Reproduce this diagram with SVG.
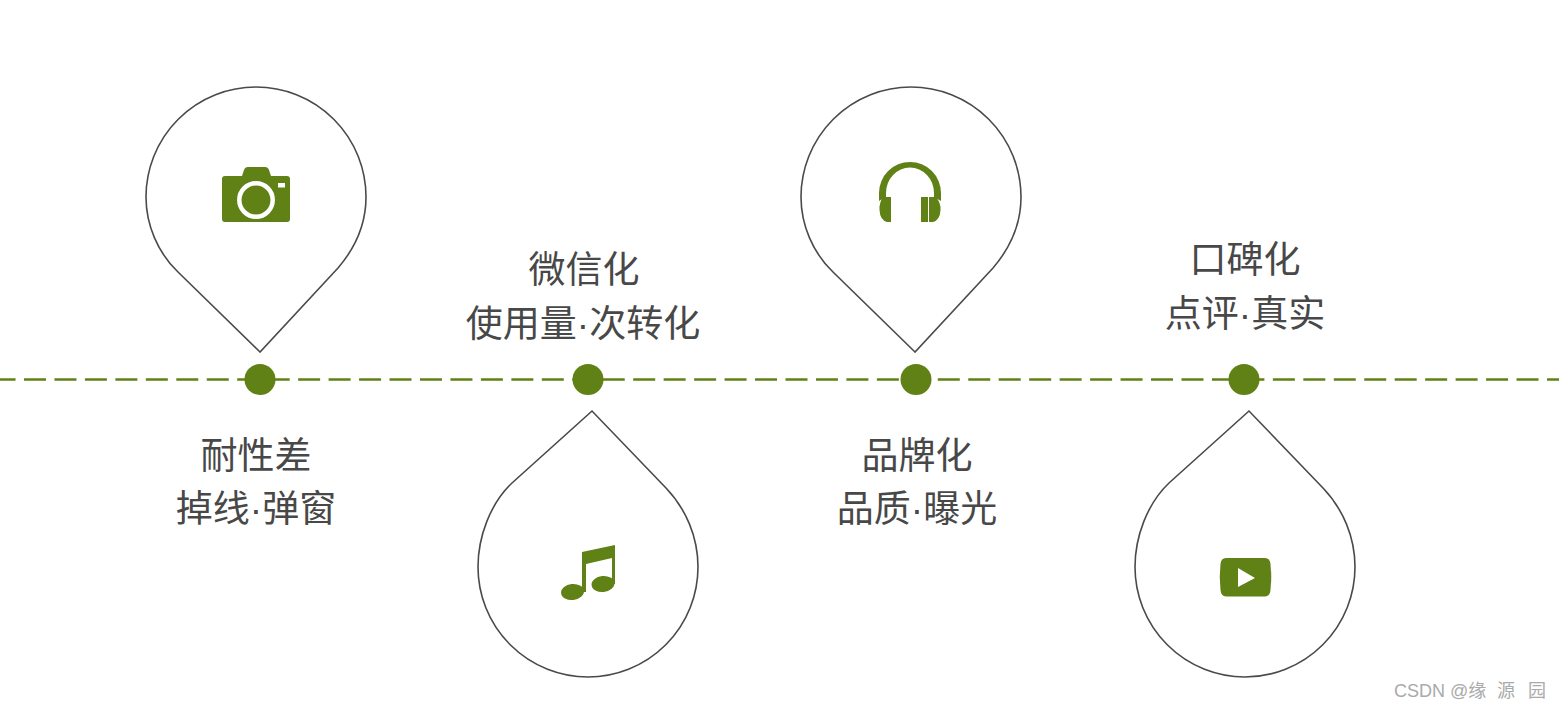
<svg xmlns="http://www.w3.org/2000/svg" width="1559" height="709" viewBox="0 0 1559 709">
<style>
.pin{fill:#fff;stroke:#4a4a4a;stroke-width:1.6}
.ic{fill:#5f8115}
.dot{fill:#5f8115}
.t{font-family:"Liberation Sans","Noto Sans CJK SC",sans-serif;font-size:37px;font-weight:400;fill:#484848;text-anchor:middle}
.wm{font-family:"Liberation Sans","Noto Sans CJK SC",sans-serif;font-size:18px;fill:#aaa}
</style>
<defs>
<path id="down" d="M4 155L-78 75C-98 56 -110 28 -110 0A110 110 0 0 1 110 0C110 26 100 50 82 71Z"/>
<path id="up" d="M4 -156L-76 -84C-98 -63 -110 -30 -110 0A110 110 0 0 0 110 0C110 -30 98 -58 78 -79Z"/>
</defs>
<g id="connectors">
<line x1="-6.460" y1="379.500" x2="1559" y2="379.500" stroke="#5f8115" stroke-width="2.500" stroke-dasharray="22 8.460"/>
</g>
<g id="node-1">
<use href="#down" class="pin" x="256" y="197"/>
<g id="camera">
<path class="ic" d="M242 176L244 170Q245 167 248 167H265Q268 167 269 170L271 176H287Q290 176 290 179V219Q290 222 287 222H225Q222 222 222 219V179Q222 176 225 176Z"/>
<circle cx="256" cy="200" r="16.700" fill="none" stroke="#fff" stroke-width="4.500"/>
<rect x="278" y="183" width="7" height="4.500" fill="#fff"/>
</g>
<circle class="dot" cx="260" cy="379.500" r="15.500"/>
<text class="t" x="256" y="469">耐性差</text>
<text class="t" x="256" y="522">掉线·弹窗</text>
</g>
<g id="node-2">
<use href="#up" class="pin" x="588" y="567"/>
<g id="music">
<path class="ic" d="M582 552L615 545V584H612V558L586 564V592H582Z"/>
<ellipse class="ic" cx="572.500" cy="592" rx="11.500" ry="8" transform="rotate(-6 572.500 592)"/>
<ellipse class="ic" cx="603" cy="584" rx="11.500" ry="8" transform="rotate(-6 603 584)"/>
</g>
<circle class="dot" cx="588" cy="379.500" r="15.500"/>
<text class="t" x="584" y="283">微信化</text>
<text class="t" x="583" y="337">使用量·次转化</text>
</g>
<g id="node-3">
<use href="#down" class="pin" x="911" y="197"/>
<g id="headphones">
<path class="ic" d="M879 193A31 31 0 0 1 941 193V201L934 197V193A24 25.500 0 0 0 886 193V197L879 201Z"/>
<path class="ic" d="M883 197H891V222H887Q880 220 879.500 210Q879 203 883 197Z"/>
<rect class="ic" x="921" y="197" width="7" height="25"/>
<path class="ic" d="M929 197H936Q941 203 940.500 210Q940 220 933 222H929Z"/>
</g>
<circle class="dot" cx="916" cy="379.500" r="15.500"/>
<text class="t" x="917" y="469">品牌化</text>
<text class="t" x="917" y="522">品质·曝光</text>
</g>
<g id="node-4">
<use href="#up" class="pin" x="1245" y="567"/>
<g id="video">
<path class="ic" d="M1226 558H1265Q1270 558 1270.500 564Q1272 577 1270.500 590Q1270 596 1265 596.500H1226Q1221 596 1220.500 590Q1219 577 1220.500 564Q1221 558 1226 558Z"/>
<path d="M1238 568L1255 578L1238 587Z" fill="#fff"/>
</g>
<circle class="dot" cx="1244" cy="379.500" r="15.500"/>
<text class="t" x="1245" y="273">口碑化</text>
<text class="t" x="1245" y="327">点评·真实</text>
</g>
<text class="wm" x="1394" y="697">CSDN @缘<tspan x="1497">源</tspan><tspan x="1528">园</tspan></text>
</svg>
